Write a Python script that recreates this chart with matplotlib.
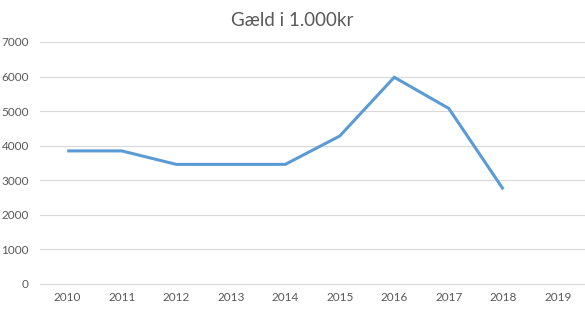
import matplotlib
matplotlib.use("Agg")
import matplotlib.pyplot as plt
import numpy as np

years = ["2010", "2011", "2012", "2013", "2014", "2015", "2016", "2017", "2018", "2019"]
debt = [3850, 3850, 3460, 3460, 3460, 4280, 5980, 5080, 2740, np.nan]
yticks = [0, 1000, 2000, 3000, 4000, 5000, 6000, 7000]
title = "Gæld i 1.000kr"

plt.rcParams['font.family'] = ['Lato', 'DejaVu Sans']

fig = plt.figure(figsize=(5.85, 3.11), dpi=100)
ax = fig.add_axes([40/585, 1-284/311, 545/585, (284-42)/311])

x = np.arange(len(years))
ax.plot(x, debt, color="#5B9BD5", linewidth=2.2, solid_capstyle="butt", solid_joinstyle="miter")

ax.set_xlim(-0.5, len(years) - 0.5)
ax.set_ylim(0, 7000)
ax.set_yticks(yticks)
ax.set_yticklabels([str(v) for v in yticks])
ax.set_xticks(x)
ax.set_xticklabels(years)
ax.grid(axis="y", color="#D9D9D9", linewidth=0.8)
ax.set_axisbelow(True)
for s in ["top", "right", "left"]:
    ax.spines[s].set_visible(False)
ax.spines["bottom"].set_color("#D9D9D9")
ax.spines["bottom"].set_linewidth(0.8)
ax.tick_params(axis="both", length=0, labelsize=8.5, colors="#595959")
ax.tick_params(axis="y", pad=8)
ax.tick_params(axis="x", pad=6)

fig.text(0.5, 1 - 20/311, title, ha="center", va="center", fontsize=13.5, color="#595959")

fig.savefig("out.png", dpi=100)
